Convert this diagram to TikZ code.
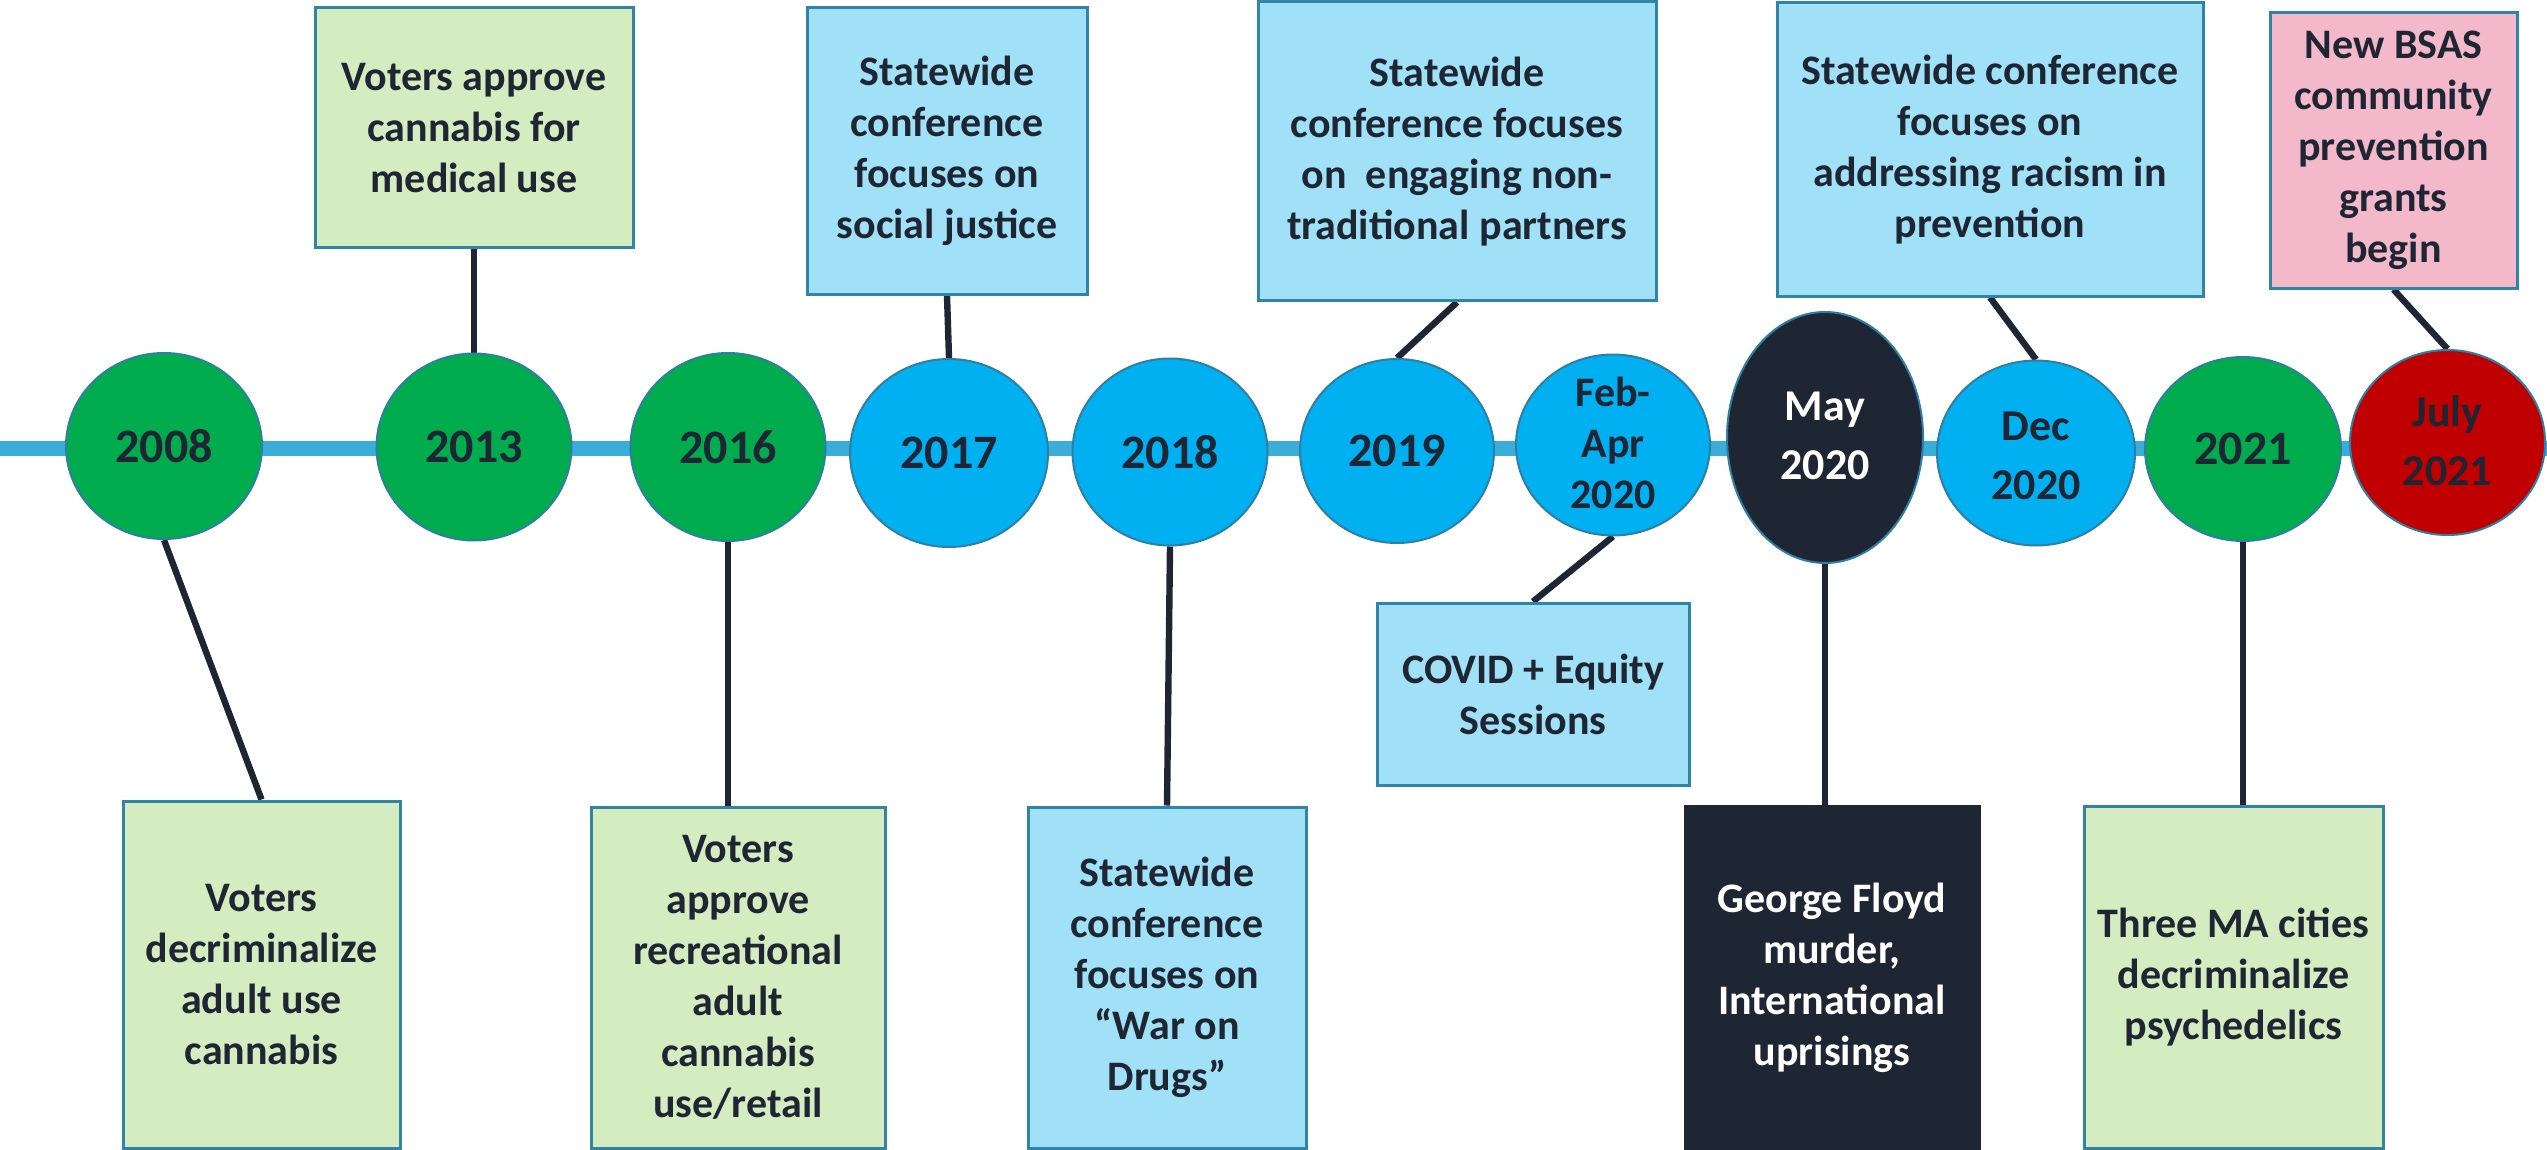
\documentclass[tikz,border=0pt]{standalone}
\usepackage{fontspec}
\setmainfont{Carlito}
\usetikzlibrary{shapes.geometric,backgrounds}
\definecolor{ink}{HTML}{1E2533}
\definecolor{rail}{HTML}{3AAED8}
\definecolor{ring}{HTML}{2E7FA3}
\definecolor{grn}{HTML}{00AC4E}
\definecolor{sky}{HTML}{00B0F0}
\definecolor{ruby}{HTML}{C00000}
\definecolor{mint}{HTML}{D5ECC1}
\definecolor{ice}{HTML}{A1E1F8}
\definecolor{rose}{HTML}{F3B9CA}
\definecolor{frame}{HTML}{3184A6}
\begin{document}
\begin{tikzpicture}[x=0.5pt,y=-0.5pt,
  yearshape/.style={ellipse, draw=ring, line width=1pt, inner sep=0pt},
  yeartext/.style={align=center, text=ink, inner sep=0pt,
    font=\fontsize{24}{29}\selectfont\bfseries},
  twoline/.style={font=\fontsize{22}{29.5}\selectfont\bfseries},
  eventbox/.style={rectangle, draw=frame, line width=1.5pt, inner sep=0pt,
    align=center, text=ink, font=\fontsize{21}{25.5}\selectfont\bfseries},
  link/.style={draw=ink, line width=3.2pt},
]
\useasboundingbox (0,0) rectangle (2547,1150);

% the time axis
\coordinate (railL) at (0,448.5);
\coordinate (railR) at (2547,448.5);
\draw[rail, line width=7.5pt] (railL) -- (railR);

% year markers
\node[yearshape, fill=grn, minimum width=98pt, minimum height=93pt] (y2008) at (164,446) {};
\node[yeartext] (t2008) at (y2008) {2008};
\node[yearshape, fill=grn, minimum width=97.5pt, minimum height=93.5pt] (y2013) at (474,447) {};
\node[yeartext] (t2013) at (y2013) {2013};
\node[yearshape, fill=grn, minimum width=97.5pt, minimum height=94pt] (y2016) at (728,447) {};
\node[yeartext] (t2016) at (y2016) {2016};
\node[yearshape, fill=sky, minimum width=99pt, minimum height=94pt] (y2017) at (949,453) {};
\node[yeartext] (t2017) at (y2017) {2017};
\node[yearshape, fill=sky, minimum width=97.5pt, minimum height=93.5pt] (y2018) at (1170,452) {};
\node[yeartext] (t2018) at (y2018) {2018};
\node[yearshape, fill=sky, minimum width=97pt, minimum height=92pt] (y2019) at (1397,451) {};
\node[yeartext] (t2019) at (y2019) {2019};
\node[yearshape, fill=sky, minimum width=97pt, minimum height=90.5pt] (yFeb) at (1613,445) {};
\node[yeartext, font=\fontsize{21}{25.5}\selectfont\bfseries] (tFeb) at (1613,443) {Feb-\\Apr\\2020};
\node[yearshape, fill=ink, minimum width=98pt, minimum height=125.5pt] (yMay) at (1825,437.5) {};
\node[yeartext, twoline, text=white] (tMay) at (1825,436) {May\\2020};
\node[yearshape, fill=sky, minimum width=99pt, minimum height=92.5pt] (yDec) at (2036,453) {};
\node[yeartext, twoline] (tDec) at (2036,456) {Dec\\2020};
\node[yearshape, fill=grn, minimum width=98pt, minimum height=92pt] (y2021) at (2243,449) {};
\node[yeartext] (t2021) at (y2021) {2021};
\node[yearshape, fill=ruby, minimum width=97.5pt, minimum height=92.5pt] (yJul) at (2447.5,442.5) {};
\node[yeartext, twoline] (tJul) at (2447.5,441) {July\\2021};

% events above the axis
\node[eventbox, fill=mint, minimum width=159pt, minimum height=120pt] (eA) at (474,128)
  {Voters approve\\cannabis for\\medical use};
\node[eventbox, fill=ice, minimum width=140pt, minimum height=143pt] (eB) at (947,151)
  {Statewide\\conference\\focuses on\\social justice};
\node[eventbox, fill=ice, minimum width=199pt, minimum height=149.5pt] (eC) at (1457,151.25)
  {Statewide\\conference focuses\\on\ \ engaging non-\\traditional partners};
\node[eventbox, fill=ice, minimum width=213pt, minimum height=146.5pt] (eD) at (1990,149.5)
  {Statewide conference\\focuses on\\addressing racism in\\prevention};
\node[eventbox, fill=rose, minimum width=123.5pt, minimum height=137.5pt] (eE) at (2393.5,150.5)
  {New BSAS\\community\\prevention\\grants\\begin};

% events below the axis
\node[eventbox, fill=mint, minimum width=138.5pt, minimum height=173.5pt] (eF) at (261.5,974.5)
  {Voters\\decriminalize\\adult use\\cannabis};
\node[eventbox, fill=mint, minimum width=147pt, minimum height=170.5pt] (eG) at (738,977.5)
  {Voters\\approve\\recreational\\adult\\cannabis\\use/retail};
\node[eventbox, fill=ice, minimum width=139pt, minimum height=170.5pt] (eH) at (1167,977.5)
  {Statewide\\conference\\focuses on\\“War on\\Drugs”};
\node[eventbox, fill=ice, minimum width=156pt, minimum height=91pt] (eI) at (1533,694)
  {COVID + Equity\\Sessions};
\node[eventbox, fill=ink, draw=ink, text=white, minimum width=147pt, minimum height=172pt] (eJ) at (1832,978)
  {George Floyd\\murder,\\International\\uprisings};
\node[eventbox, fill=mint, minimum width=149.5pt, minimum height=171pt] (eK) at (2233.5,977)
  {Three MA cities\\decriminalize\\psychedelics};

% connectors between markers and events
\begin{pgfonlayer}{background}
\draw[link] (y2008.south) -- (eF.north);
\draw[link] (y2013.north) -- (eA.south);
\draw[link] (y2016.south) -- (y2016.south |- eG.north);
\draw[link] (y2017.north) -- (eB.south);
\draw[link] (y2018.south) -- (eH.north);
\draw[link] (y2019.north) -- (eC.south);
\draw[link] (yFeb.south) -- (eI.north);
\draw[link] (yMay.south) -- (yMay.south |- eJ.north);
\draw[link] (eD.south) -- (yDec.north);
\draw[link] (y2021.south) -- (y2021.south |- eK.north);
\draw[link] (eE.south) -- (yJul.north);
\end{pgfonlayer}
\end{tikzpicture}
\end{document}
